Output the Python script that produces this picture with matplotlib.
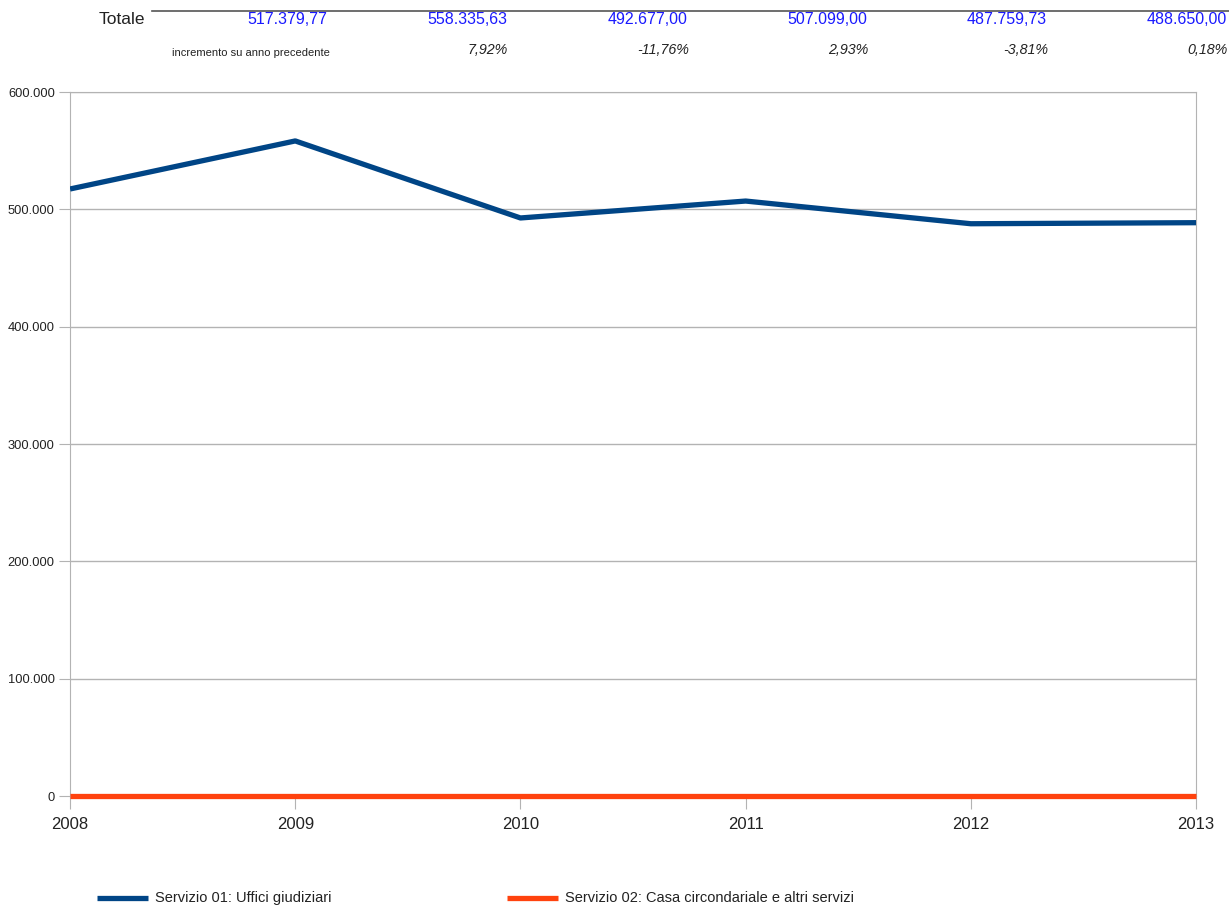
import matplotlib.pyplot as plt
from matplotlib.ticker import FuncFormatter

plt.rcParams['font.family'] = ['Liberation Sans', 'DejaVu Sans']

# data
anni = [2008, 2009, 2010, 2011, 2012, 2013]
servizio01 = [517379.77, 558335.63, 492677.00, 507099.00, 487759.73, 488650.00]
servizio02 = [0, 0, 0, 0, 0, 0]
totali = ["517.379,77", "558.335,63", "492.677,00", "507.099,00", "487.759,73", "488.650,00"]
incrementi = ["7,92%", "-11,76%", "2,93%", "-3,81%", "0,18%"]
nomi = ["Servizio 01: Uffici giudiziari", "Servizio 02: Casa circondariale e altri servizi"]
colori = ["#004586", "#ff420e"]

fig = plt.figure(figsize=(12.29, 9.06), dpi=100)
ax = fig.add_axes([0.0570, 0.1214, 0.9162, 0.7770])

ax.plot(anni, servizio01, color=colori[0], linewidth=3.8, solid_capstyle='butt', zorder=3)
ax.plot(anni, servizio02, color=colori[1], linewidth=3.8, solid_capstyle='butt', zorder=3,
        clip_on=False)

ax.set_xlim(2008, 2013)
ax.set_ylim(0, 600000)
ax.set_yticks(range(0, 600001, 100000))
ax.yaxis.set_major_formatter(FuncFormatter(lambda v, p: f"{int(v):,}".replace(",", ".")))
ax.set_xticks(anni)
ax.grid(axis='y', color='#b3b3b3', linewidth=1)
ax.set_axisbelow(True)
for s in ax.spines.values():
    s.set_color('#b3b3b3')
ax.tick_params(axis='y', length=8, color='#b3b3b3', labelsize=9.3, labelcolor='#222222', pad=3)
ax.tick_params(axis='x', length=9, color='#b3b3b3', labelsize=12, labelcolor='#222222', pad=6)

# header table with totals and yearly change
fig.add_artist(plt.Line2D([152 / 1229, 1.0], [1 - 11 / 906] * 2, color='#555555', linewidth=1.2))
fig.text(145 / 1229, 1 - 20 / 906, "Totale", ha='right', va='center', fontsize=12.5, color='#222222')
x_tot = [327, 507, 688, 867, 1047, 1227]
for x, t in zip(x_tot, totali):
    fig.text(x / 1229, 1 - 20 / 906, t, ha='right', va='center', fontsize=11.5, color='#1a1aff')
fig.text(172 / 1229, 1 - 53 / 906, "incremento su anno precedente", ha='left', va='center',
         fontsize=8, color='#222222')
for x, t in zip(x_tot[1:], incrementi):
    fig.text((x + 1) / 1229, 1 - 50 / 906, t, ha='right', va='center', fontsize=10.3,
             style='italic', color='#222222')

# legend
for (x0, x1), nome, c in zip([(97, 148), (507, 558)], nomi, colori):
    fig.add_artist(plt.Line2D([x0 / 1229, x1 / 1229], [1 - 898 / 906] * 2, color=c,
                              linewidth=3.8, solid_capstyle='butt'))
    fig.text((x1 + 7) / 1229, 1 - 898 / 906, nome, ha='left', va='center', fontsize=10.5,
             color='#222222')

fig.savefig("out.png", dpi=100)
